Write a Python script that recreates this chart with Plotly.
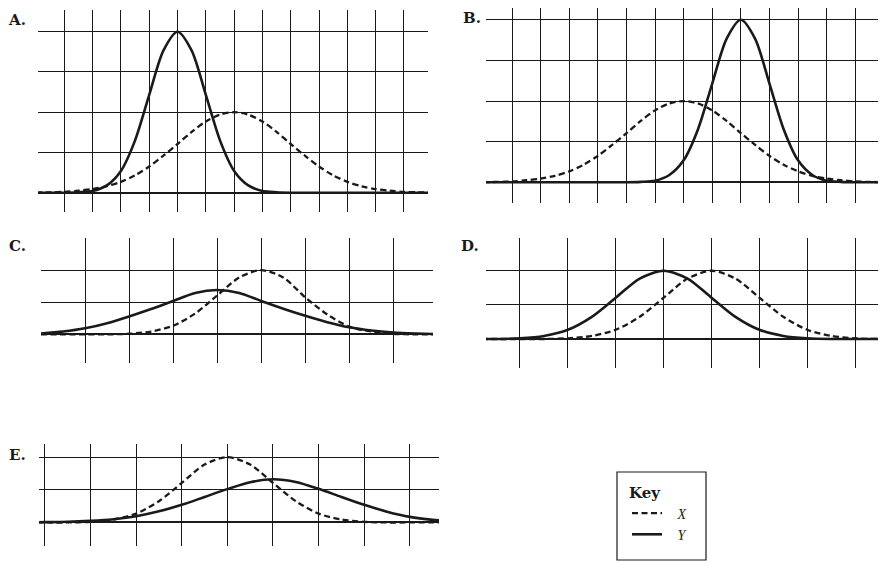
import numpy as np
import plotly.graph_objects as go

# the page body adds an 8px margin, so the figure is 8px smaller and shifted
OFF = 8
W, H = 886 - OFF, 573 - OFF

a_x = np.arange(0, 14.01, 0.5)
a_solid = [0, 0, 0, 0.01, 0.04, 0.18, 0.54, 1.30, 2.43, 3.53, 4, 3.53, 2.43, 1.30, 0.54,
           0.18, 0.04, 0.01, 0, 0, 0, 0, 0, 0, 0, 0, 0, 0, 0]
a_dashed = [0, 0.01, 0.02, 0.05, 0.09, 0.16, 0.27, 0.43, 0.65, 0.92, 1.21, 1.51, 1.77, 1.94, 2,
            1.94, 1.77, 1.51, 1.21, 0.92, 0.65, 0.43, 0.27, 0.16, 0.09, 0.05, 0.02, 0.01, 0]

b_x = np.arange(0, 14.01, 0.5)
b_solid = [0, 0, 0, 0, 0, 0, 0, 0, 0, 0, 0, 0.01, 0.04, 0.18, 0.54, 1.30, 2.43, 3.53, 4,
           3.53, 2.43, 1.30, 0.54, 0.18, 0.04, 0.01, 0, 0, 0]
b_dashed = [0, 0.01, 0.02, 0.05, 0.09, 0.16, 0.27, 0.43, 0.65, 0.92, 1.21, 1.51, 1.77, 1.94, 2,
            1.94, 1.77, 1.51, 1.21, 0.92, 0.65, 0.43, 0.27, 0.16, 0.09, 0.05, 0.02, 0.01, 0]

c_x = np.arange(0, 9.01, 0.5)
c_solid = [0.03, 0.09, 0.19, 0.35, 0.56, 0.79, 1.04, 1.29, 1.38, 1.29, 1.04, 0.80, 0.58,
           0.38, 0.22, 0.12, 0.06, 0.03, 0.01]
c_dashed = [0, 0, 0, 0, 0.02, 0.09, 0.27, 0.65, 1.21, 1.77, 2, 1.77, 1.15, 0.62, 0.24,
            0.09, 0.02, 0, 0]

d_x = np.arange(0, 9.01, 0.5)
d_solid = [0, 0, 0.02, 0.09, 0.27, 0.65, 1.21, 1.77, 2, 1.77, 1.21, 0.65, 0.27, 0.09,
           0.02, 0, 0, 0, 0]
d_dashed = [0, 0, 0, 0, 0.02, 0.09, 0.27, 0.65, 1.21, 1.77, 2, 1.77, 1.21, 0.65, 0.27,
            0.09, 0.02, 0, 0]

e_x = np.arange(0, 10.01, 0.5)
e_solid = [0, 0.005, 0.01, 0.02, 0.05, 0.10, 0.19, 0.34, 0.54, 0.78, 1.02, 1.23, 1.32, 1.24,
           1.03, 0.78, 0.54, 0.33, 0.17, 0.08, 0.03]
e_dashed = [0, 0, 0, 0, 0.02, 0.09, 0.27, 0.65, 1.21, 1.77, 2, 1.77, 1.21, 0.65, 0.27,
            0.09, 0.02, 0, 0, 0, 0]

panel_labels = ["A.", "B.", "C.", "D.", "E."]
key_title = "Key"
key_names = ["X", "Y"]

# pixel box of each panel (screen coords), axis ranges, label position
panels = [
    dict(box=(38, 10, 428, 212), xr=[0.07, 13.85], yr=[-0.48, 4.54], xt=13, yt=4,
         x=a_x, solid=a_solid, dashed=a_dashed, lab=(6, 20)),
    dict(box=(486, 8, 881, 203), xr=[0.09, 13.9], yr=[-0.51, 4.29], xt=13, yt=4,
         x=b_x, solid=b_solid, dashed=b_dashed, lab=(461, 18)),
    dict(box=(41, 238, 433, 363), xr=[0.0, 8.9], yr=[-0.89, 3.0], xt=8, yt=2,
         x=c_x, solid=c_solid, dashed=c_dashed, lab=(7, 246)),
    dict(box=(486, 238, 881, 368), xr=[0.29, 8.54], yr=[-0.85, 2.96], xt=8, yt=2,
         x=d_x, solid=d_solid, dashed=d_dashed, lab=(459, 246)),
    dict(box=(39, 444, 439, 546), xr=[0.87, 9.64], yr=[-0.72, 2.4], xt=9, yt=2,
         x=e_x, solid=e_solid, dashed=e_dashed, lab=(7, 455)),
]


def px(sx):
    return min(max((sx - OFF) / W, 0), 1)


def py(sy):
    return min(max(1 - (sy - OFF) / H, 0), 1)


fig = go.Figure()
ink = "#1a1a1a"
serif = "Liberation Serif"
label_font = "DejaVu Serif"
pad = "&nbsp;&nbsp;&nbsp;"  # pushes the key text right of the line sample

for i, p in enumerate(panels):
    sfx = "" if i == 0 else str(i + 1)
    x0, y0, x1, y1 = p["box"]
    fig.add_trace(go.Scatter(
        x=p["x"], y=p["dashed"], mode="lines", xaxis="x" + sfx, yaxis="y" + sfx,
        line=dict(color=ink, width=2.3, dash="6px,3.5px", shape="spline", smoothing=0.8),
        name=pad + "<i>" + key_names[0] + "</i>", showlegend=(i == 0), legendrank=1,
        hoverinfo="skip"))
    fig.add_trace(go.Scatter(
        x=p["x"], y=p["solid"], mode="lines", xaxis="x" + sfx, yaxis="y" + sfx,
        line=dict(color=ink, width=2.6, shape="spline", smoothing=0.8),
        name=pad + "<i>" + key_names[1] + "</i>", showlegend=(i == 0), legendrank=2,
        hoverinfo="skip"))
    axis = dict(showticklabels=False, ticks="", showline=False, gridcolor=ink,
                gridwidth=1, fixedrange=True)
    fig.layout["xaxis" + sfx] = dict(
        axis, domain=[px(x0), px(x1)], range=p["xr"], anchor="y" + sfx,
        tickvals=list(range(1, p["xt"] + 1)), zeroline=False)
    fig.layout["yaxis" + sfx] = dict(
        axis, domain=[py(y1), py(y0)], range=p["yr"], anchor="x" + sfx,
        tickvals=list(range(1, p["yt"] + 1)), zeroline=True, zerolinecolor=ink,
        zerolinewidth=2)
    fig.add_annotation(
        text="<b>" + panel_labels[i] + "</b>", xref="paper", yref="paper",
        x=(p["lab"][0] - OFF) / W, y=1 - (p["lab"][1] - OFF) / H,
        xanchor="left", yanchor="middle",
        showarrow=False, font=dict(family=label_font, size=15, color=ink))

# key box
fig.add_shape(type="rect", xref="paper", yref="paper",
              x0=px(617), x1=px(706), y0=py(560), y1=py(472),
              line=dict(color=ink, width=1.2))

fig.update_layout(
    width=W, height=H, margin=dict(l=0, r=0, t=0, b=0),
    plot_bgcolor="white", paper_bgcolor="white",
    showlegend=True,
    legend=dict(x=px(627), y=py(478), xanchor="left", yanchor="top",
                bgcolor="rgba(0,0,0,0)", borderwidth=0,
                title=dict(text="<b>" + key_title + "</b>",
                           font=dict(family=label_font, size=15, color=ink)),
                font=dict(family=serif, size=14, color=ink),
                itemwidth=30, tracegroupgap=0),
)

fig.write_html("out.html")
